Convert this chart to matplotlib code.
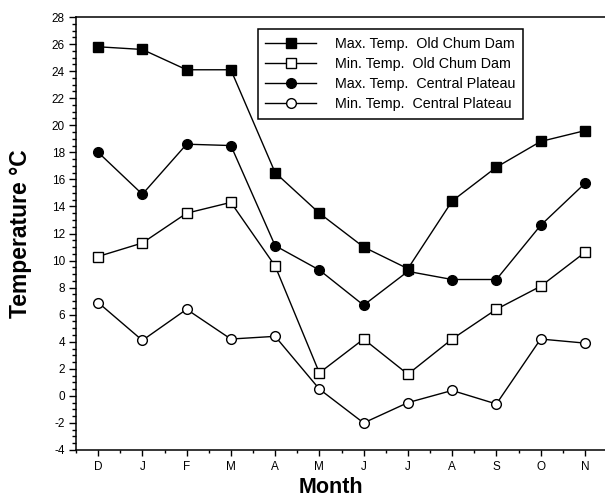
import matplotlib
matplotlib.use('Agg')
import matplotlib.pyplot as plt
from matplotlib.ticker import MultipleLocator

# month labels (Dec to Nov) and temperature series
months = ['D', 'J', 'F', 'M', 'A', 'M', 'J', 'J', 'A', 'S', 'O', 'N']
max_old_chum = [25.8, 25.6, 24.1, 24.1, 16.5, 13.5, 11.0, 9.4, 14.4, 16.9, 18.8, 19.6]
min_old_chum = [10.3, 11.3, 13.5, 14.3, 9.6, 1.7, 4.2, 1.6, 4.2, 6.4, 8.1, 10.6]
max_plateau = [18.0, 14.9, 18.6, 18.5, 11.1, 9.3, 6.7, 9.2, 8.6, 8.6, 12.6, 15.7]
min_plateau = [6.9, 4.1, 6.4, 4.2, 4.4, 0.5, -2.0, -0.5, 0.4, -0.6, 4.2, 3.9]

labels = ['Max. Temp.  Old Chum Dam', 'Min. Temp.  Old Chum Dam',
          'Max. Temp.  Central Plateau', 'Min. Temp.  Central Plateau']

plt.rcParams['font.family'] = ['Liberation Sans', 'DejaVu Sans']
plt.rcParams['axes.unicode_minus'] = False

fig = plt.figure(figsize=(6.05, 4.97), dpi=100)
ax = fig.add_axes([76 / 605, 47 / 497, 531 / 605, 433 / 497])

x = list(range(len(months)))
ax.plot(x, max_old_chum, '-s', color='black', mfc='black', ms=6.5, lw=1, label=labels[0])
ax.plot(x, min_old_chum, '-s', color='black', mfc='white', mec='black', ms=6.5, mew=1, lw=1, label=labels[1])
ax.plot(x, max_plateau, '-o', color='black', mfc='black', ms=7, lw=1, label=labels[2])
ax.plot(x, min_plateau, '-o', color='black', mfc='white', mec='black', ms=7, mew=1, lw=1, label=labels[3])

ax.set_xlim(-0.5, 11.5)
ax.set_ylim(-4, 28)
ax.set_xticks(x)
ax.set_xticklabels(months)
ax.xaxis.set_minor_locator(MultipleLocator(0.5))
ax.yaxis.set_major_locator(MultipleLocator(2))
ax.yaxis.set_minor_locator(MultipleLocator(0.5))

ax.tick_params(axis='y', which='major', length=5, width=1, labelsize=8.5, pad=3)
ax.tick_params(axis='y', which='minor', length=3, width=1)
ax.tick_params(axis='x', which='major', length=4, width=1, labelsize=8.5, pad=4)
ax.tick_params(axis='x', which='minor', length=2.5, width=1)

ax.spines['right'].set_visible(False)
for s in ['left', 'bottom', 'top']:
    ax.spines[s].set_linewidth(1.1)

ax.set_xlabel('Month', fontsize=15.5, fontweight='bold')
ax.set_ylabel('Temperature \u00b0C', fontsize=16.5, fontweight='bold')
ax.xaxis.set_label_coords((331 - 76) / 531, -0.062)
ax.yaxis.set_label_coords(-0.083, 0.5)

leg = ax.legend(loc='upper right', bbox_to_anchor=(0.842, 0.972), borderaxespad=0,
                fancybox=False, edgecolor='black', fontsize=10.3, handlelength=3.55,
                labelspacing=0.42, handletextpad=1.3, borderpad=0.55, framealpha=1)
leg.get_frame().set_linewidth(1.1)

fig.savefig('out.png', dpi=100)
